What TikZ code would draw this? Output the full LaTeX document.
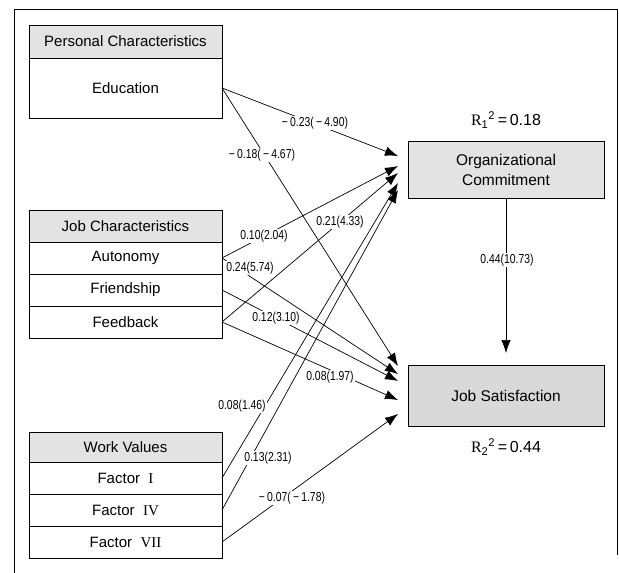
\documentclass[tikz,border=0pt]{standalone}
\usepackage{fontspec}
\setmainfont{Liberation Sans}
\newfontfamily\narrowfont[FakeStretch=0.8]{Liberation Sans}
\newfontfamily\rfont{Liberation Serif}
\usetikzlibrary{arrows.meta}
\begin{document}
\begin{tikzpicture}[x=1bp,y=-1bp,
  box/.style={draw, line width=0.9bp, minimum width=193bp, inner sep=0pt, outer sep=0pt,
    font=\fontsize{15bp}{17bp}\selectfont},
  hdr/.style={box, fill=gray!22},
  rowbox/.style={box, fill=white},
  target/.style={draw, line width=0.9bp, minimum width=196bp, inner sep=0pt, outer sep=0pt,
    align=center, font=\fontsize{15.5bp}{20bp}\selectfont},
  conn/.style={line width=0.7bp, -{Latex[length=13bp,width=9.5bp]}},
  lbl/.style={fill=white, inner sep=1bp, font=\narrowfont\fontsize{13bp}{14bp}\selectfont},
  rsq/.style={font=\fontsize{16bp}{18bp}\selectfont}]
\useasboundingbox (0,0) rectangle (619,573);
% frame
\draw[line width=0.9bp] (14,573) -- (14,9) -- (617,9) -- (617,555);

% left boxes
\node[hdr, minimum height=33bp] (pch) at (125.5,41.5) {Personal Characteristics};
\node[rowbox, minimum height=60bp] (edu) at (125.5,88) {Education};

\node[hdr, minimum height=32bp] (jch) at (125.5,226) {Job Characteristics};
\node[rowbox, minimum height=32bp] (auto) at (125.5,258) {Autonomy};
\node[rowbox, minimum height=32bp] (friend) at (125.5,290) {Friendship};
\node[rowbox, minimum height=32bp] (feed) at (125.5,322) {Feedback};

\node[hdr, minimum height=30bp] (wvh) at (125.5,447) {Work Values};
\node[rowbox, minimum height=32bp] (f1) at (125.5,478) {Factor\ \ {\rfont I}};
\node[rowbox, minimum height=32bp] (f4) at (125.5,510) {Factor\ \ {\rfont IV}};
\node[rowbox, minimum height=32bp] (f7) at (125.5,542) {Factor\ \ {\rfont VII}};

% right boxes
\node[target, fill=gray!22, minimum height=57bp] (oc) at (506,169.5) {Organizational\\Commitment};
\node[target, fill=gray!30, minimum height=61bp] (js) at (506,395.5) {Job Satisfaction};
\node[rsq] (r1) at (506,120) {{\rfont R}\textsubscript{1}\textsuperscript{2}\,=\,0.18};
\node[rsq] (r2) at (506,447) {{\rfont R}\textsubscript{2}\textsuperscript{2}\,=\,0.44};

% arrow tips
\coordinate (ocA) at (398,156);
\coordinate (ocB) at (398,166);
\coordinate (ocC) at (398,173);
\coordinate (ocD) at (398,183);
\coordinate (ocE) at (398,190);
\coordinate (jsA) at (398,366);
\coordinate (jsB) at (398,374);
\coordinate (jsC) at (398,381);
\coordinate (jsD) at (398,400);
\coordinate (jsE) at (398,414);

% connectors
\draw[conn] (edu.east) -- (ocA);
\draw[conn] (edu.east) -- (jsA);
\draw[conn] (auto.east) -- (ocB);
\draw[conn] (auto.east) -- (jsB);
\draw[conn] (friend.east) -- (jsC);
\draw[conn] (feed.east) -- (ocC);
\draw[conn] (feed.east) -- (jsD);
\draw[conn] (f1.east) -- (ocD);
\draw[conn] (f4.east) -- (ocE);
\draw[conn] (f7.east) -- (jsE);
\draw[conn, shorten >=12bp] (oc.south) -- (js.north);

% labels
\node[lbl] (l1) at (315,123) {−\,0.23(\,−\,4.90)};
\node[lbl] (l2) at (262,155) {−\,0.18(\,−\,4.67)};
\node[lbl] (l3) at (264,236) {0.10(2.04)};
\node[lbl] (l4) at (250,268) {0.24(5.74)};
\node[lbl] (l5) at (276,318) {0.12(3.10)};
\node[lbl] (l6) at (340,222) {0.21(4.33)};
\node[lbl] (l7) at (330,377) {0.08(1.97)};
\node[lbl] (l8) at (242,406) {0.08(1.46)};
\node[lbl] (l9) at (268,458) {0.13(2.31)};
\node[lbl] (l10) at (292,498) {−\,0.07(\,−\,1.78)};
\node[lbl] (l11) at (507,260) {0.44(10.73)};
\end{tikzpicture}
\end{document}
